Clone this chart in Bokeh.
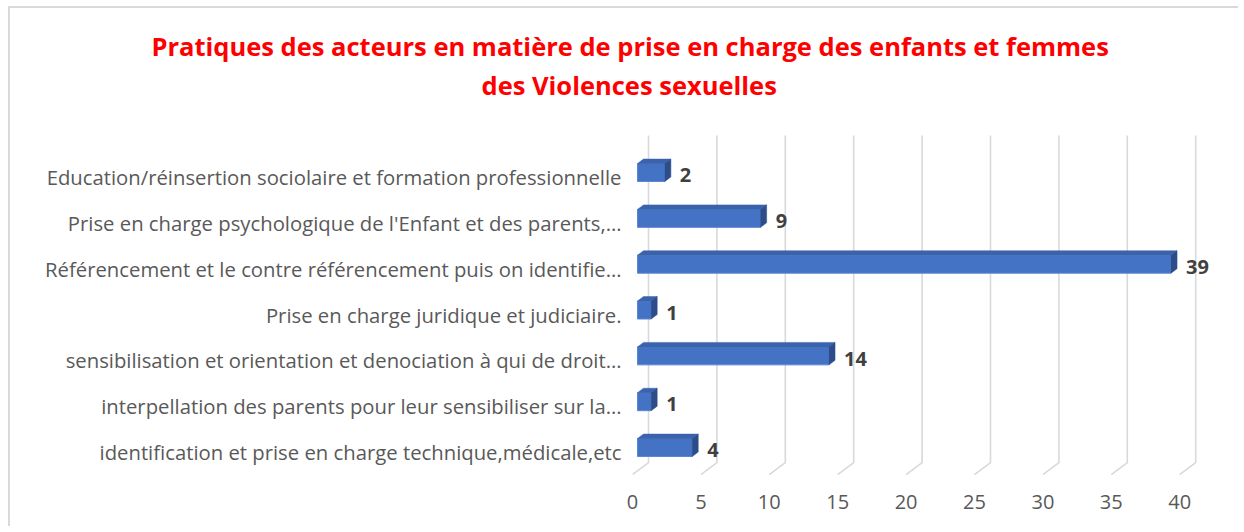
from bokeh.plotting import figure
from bokeh.models import Range1d, FixedTicker, Title, ColumnDataSource
from bokeh.core.properties import value
from bokeh.embed import file_html
from bokeh.resources import INLINE

# ---- data (bottom to top) ----
categories = [
    "identification et prise en charge technique,médicale,etc",
    "interpellation des parents pour leur sensibiliser sur la…",
    "sensibilisation et orientation et denociation à qui de droit…",
    "Prise en charge juridique et judiciaire.",
    "Référencement et le contre référencement puis on identifie…",
    "Prise en charge psychologique de l'Enfant et des parents,…",
    "Education/réinsertion sociolaire et formation professionnelle",
]
values = [4, 1, 14, 1, 39, 9, 2]
x_ticks = [0, 5, 10, 15, 20, 25, 30, 35, 40]
title_lines = [
    "Pratiques des acteurs en matière de prise en charge des enfants et femmes",
    "des Violences sexuelles",
]

# ---- 3D projection parameters (data units) ----
bar_start = 0.365     # bar front face start (depth offset)
bar_dx = 0.44         # bar depth, x
bar_dy = 0.098        # bar depth, y
bar_half = 0.196      # half height of front face
bar_shift = 0.10
back_dx = 1.17        # back wall offset
grid_top = 6.906
floor_back = -0.227
floor_front = -0.489

# canvas is offset by a CSS margin + border (10px left, 8px top)
OX, OY = 10, 8
W, H = 1230, 520
FL, FT, FB = 632 - OX, 130 - OY, 476 - OY      # frame left / top / bottom (canvas px)
p = figure(width=W, height=H, output_backend="svg", toolbar_location=None,
           x_range=Range1d(0, (W - FL) / 13.68), y_range=Range1d(-0.532, 7.017),
           min_border_left=FL, min_border_right=0, min_border_top=FT,
           min_border_bottom=H - FB)
p.outline_line_color = None
p.grid.visible = False
p.background_fill_color = "white"
p.border_fill_color = "white"
p.styles = {"margin-left": "8px", "margin-top": "6px",
            "border-left": "2px solid #d9d9d9", "border-top": "2px solid #d9d9d9"}

# gridlines (3D wall + floor)
gx = [[t + back_dx, t + back_dx, t] for t in x_ticks]
gy = [[grid_top, floor_back, floor_front] for t in x_ticks]
p.multi_line(xs=gx, ys=gy, line_color="#d9d9d9", line_width=1.6)

idx = list(range(len(values)))
yc = [i + bar_shift for i in idx]

# front faces
p.quad(left=[bar_start] * len(values), right=[bar_start + v for v in values],
       bottom=[y - bar_half for y in yc], top=[y + bar_half for y in yc],
       fill_color="#4472C4", line_color="#5b86d0", line_width=1)
# top faces
top_xs = [[bar_start, bar_start + v, bar_start + v + bar_dx, bar_start + bar_dx] for v in values]
top_ys = [[y + bar_half, y + bar_half, y + bar_half + bar_dy, y + bar_half + bar_dy] for y in yc]
p.patches(xs=top_xs, ys=top_ys, fill_color="#3a62ad", line_color="#3a62ad", line_width=0.5)
# right faces
r_xs = [[bar_start + v, bar_start + v + bar_dx, bar_start + v + bar_dx, bar_start + v] for v in values]
r_ys = [[y - bar_half, y - bar_half + bar_dy, y + bar_half + bar_dy, y + bar_half] for y in yc]
p.patches(xs=r_xs, ys=r_ys, fill_color="#2c4d8a", line_color="#2c4d8a", line_width=0.5)

# value labels
src = ColumnDataSource(dict(x=[bar_start + v + bar_dx for v in values],
                            y=[i + 0.04 for i in idx],
                            t=[str(v) for v in values]))
p.text(x="x", y="y", text="t", source=src, x_offset=9, text_baseline="middle",
       text_align="left", text_font=value("Open Sans"), text_font_style="bold",
       text_font_size="20px", text_color="#404040")

# axes
p.xaxis.ticker = FixedTicker(ticks=x_ticks)
p.xaxis.axis_line_color = None
p.xaxis.major_tick_line_color = None
p.xaxis.minor_tick_line_color = None
p.xaxis.major_label_text_font = "Open Sans"
p.xaxis.major_label_text_font_size = "20px"
p.xaxis.major_label_text_color = "#595959"
p.xaxis.major_label_standoff = 12

p.yaxis.ticker = FixedTicker(ticks=idx)
p.yaxis.major_label_overrides = {i: c for i, c in zip(idx, categories)}
p.yaxis.axis_line_color = None
p.yaxis.major_tick_line_color = None
p.yaxis.minor_tick_line_color = None
p.yaxis.major_label_text_font = "Open Sans"
p.yaxis.major_label_text_font_size = "20.3px"
p.yaxis.major_label_text_color = "#595959"
p.yaxis.major_label_standoff = 5

# two-line title, added nearest-first; left-aligned with an offset to centre on the chart
t2 = Title(text=title_lines[1], align="left", offset=481 - OX - FL, standoff=57,
           text_font="Open Sans", text_font_style="bold", text_font_size="25.5px",
           text_color="#FF0000")
t1 = Title(text=title_lines[0], align="left", offset=151 - OX - FL, standoff=-51,
           text_font="Open Sans", text_font_style="bold", text_font_size="25.5px",
           text_color="#FF0000")
p.add_layout(t2, "above")
p.add_layout(t1, "above")

open("out.html", "w").write(file_html(p, INLINE))
